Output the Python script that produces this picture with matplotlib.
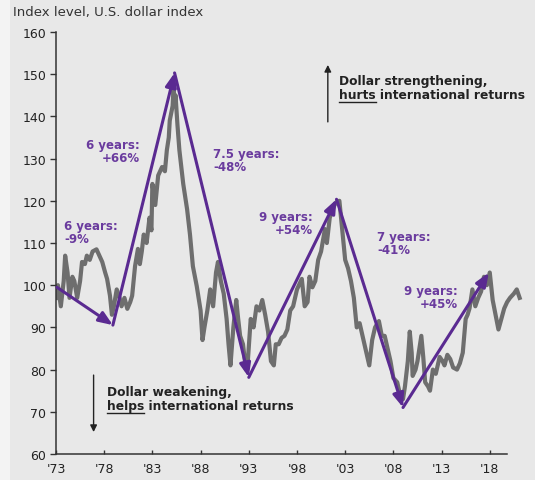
import numpy as np
import matplotlib.pyplot as plt
from matplotlib.lines import Line2D
from matplotlib.patches import Rectangle

# ── U.S. dollar index (year, index level) ─────────────────────────────
years = [1973.0, 1973.2, 1973.5, 1973.8, 1973.95, 1974.2, 1974.4, 1974.7, 1974.9,
         1975.2, 1975.5, 1975.7, 1976.0, 1976.2, 1976.5, 1976.8, 1977.2, 1977.5,
         1977.8, 1978.1, 1978.3, 1978.6, 1978.8, 1979.0, 1979.3, 1979.6, 1979.8,
         1980.1, 1980.4, 1980.7, 1980.9, 1981.2, 1981.5, 1981.7, 1981.9, 1982.1,
         1982.4, 1982.7, 1982.9, 1983.0, 1983.3, 1983.6, 1984.0, 1984.3, 1984.5,
         1984.7, 1984.8, 1985.1, 1985.2, 1985.3, 1985.4, 1985.6, 1985.8, 1986.0,
         1986.2, 1986.6, 1986.9, 1987.2, 1987.6, 1988.0, 1988.2, 1988.4, 1988.7,
         1989.0, 1989.3, 1989.6, 1989.8, 1990.1, 1990.4, 1990.7, 1990.9, 1991.1,
         1991.4, 1991.7, 1991.9, 1992.1, 1992.4, 1992.7, 1992.9, 1993.2, 1993.5,
         1993.8, 1994.1, 1994.4, 1994.7, 1995.0, 1995.3, 1995.6, 1995.8, 1996.1,
         1996.4, 1996.7, 1997.0, 1997.3, 1997.6, 1998.0, 1998.5, 1998.8, 1999.1,
         1999.3, 1999.6, 1999.9, 2000.2, 2000.5, 2000.9, 2001.1, 2001.4, 2001.7,
         2001.9, 2002.1, 2002.4, 2002.7, 2003.0, 2003.3, 2003.6, 2003.9, 2004.2,
         2004.5, 2004.8, 2005.1, 2005.5, 2005.8, 2006.1, 2006.5, 2006.8, 2007.1,
         2007.4, 2007.7, 2008.0, 2008.4, 2008.7, 2009.0, 2009.2, 2009.5, 2009.7,
         2009.9, 2010.0, 2010.3, 2010.5, 2010.9, 2011.1, 2011.3, 2011.6, 2011.8,
         2012.1, 2012.4, 2012.8, 2013.1, 2013.3, 2013.6, 2013.9, 2014.2, 2014.6,
         2014.9, 2015.2, 2015.5, 2015.7, 2015.9, 2016.2, 2016.5, 2016.8, 2017.1,
         2017.4, 2017.7, 2018.0, 2018.3, 2018.6, 2018.9, 2019.2, 2019.5, 2019.8,
         2020.1, 2020.5, 2020.8, 2021.1]
dxy = [97, 100, 95, 101, 107, 103, 97, 102, 101,
       97, 101, 105.5, 105, 107, 106, 108, 108.5, 107,
       105.5, 103, 101.5, 97.5, 93, 95, 99, 97, 95,
       97, 94.4, 96, 97.5, 104.5, 108.6, 105, 108, 112,
       110, 116, 113, 124, 119, 126, 128, 127, 132,
       135, 139, 142.5, 147, 143, 145, 138, 132, 128,
       124, 118, 112, 104.5, 99.8, 94, 87, 90, 94,
       99, 95, 103, 105.5, 101, 98, 92, 86, 81,
       90, 96.5, 92, 88, 86, 80, 82, 92, 90,
       95, 94, 96.5, 93, 89, 82, 81, 86, 86,
       87.5, 88, 89.5, 94, 95, 99, 101.5, 95, 96,
       102, 99.5, 101, 106, 108, 113.3, 110, 116, 118,
       119, 119.7, 120, 113, 106, 104, 101, 97, 90,
       91, 88, 85, 81, 87, 90, 91.5, 88, 88,
       85, 82, 78, 77, 74, 73, 76, 82, 89,
       84, 78.5, 80, 82, 88, 83, 77, 76, 75,
       80, 79, 83, 82, 81, 83.5, 82.5, 80.5, 80,
       81.5, 84, 92, 93, 94.5, 99, 95, 97, 98.5,
       102, 100, 103, 96.5, 93, 89.5, 92, 94.5, 96,
       97, 98, 99, 97]

# ── Dollar cycles: turning points and the move in each leg ────────────
cycle_years = [1973.1, 1978.9, 1985.3, 1993.0, 2002.1, 2009.0, 2017.9]
cycle_start = 99.5
cycle_pct = [-9, 66, -48, 54, -41, 45]
cycle_len = ['6', '6', '7.5', '9', '7', '9']
cycle_levels = [cycle_start]
for p in cycle_pct:
    cycle_levels.append(cycle_levels[-1] * (1 + p / 100))

# label anchor (year, level) and horizontal alignment for each leg
label_pos = [(1973.83, 112.6, 'left'), (1981.7, 131.9, 'right'),
             (1989.3, 129.7, 'left'), (1999.66, 114.7, 'right'),
             (2006.3, 110.0, 'left'), (2014.7, 97.3, 'right')]

tick_years = list(range(1973, 2019, 5))
tick_labels = ["'%02d" % (y % 100) for y in tick_years]

purple = '#5a2a91'
label_purple = '#6a3b9e'
bg = '#e8e8e8'

# ── Figure ────────────────────────────────────────────────────────────
fig = plt.figure(figsize=(5.35, 4.81), dpi=100, facecolor=bg)
fig.add_artist(Rectangle((0, 0), 0.018, 1, transform=fig.transFigure,
                         color='#f3f3f3', lw=0, zorder=0))
ax = fig.add_axes([56 / 535, 26 / 481, (523.5 - 56) / 535, 422 / 481])
ax.set_facecolor(bg)

ax.plot(years, dxy, color='#6e6e6e', lw=3.0, solid_joinstyle='round', zorder=2)

for i, pct in enumerate(cycle_pct):
    ax.annotate('', xy=(cycle_years[i + 1], cycle_levels[i + 1]),
                xytext=(cycle_years[i], cycle_levels[i]),
                arrowprops=dict(arrowstyle='-|>,head_length=0.55,head_width=0.22',
                                color=purple, lw=2.2, mutation_scale=15,
                                shrinkA=0, shrinkB=0),
                zorder=3)
    x, y, ha = label_pos[i]
    ax.text(x, y, '%s years:\n%+d%%' % (cycle_len[i], pct), ha=ha, va='center',
            fontsize=8.5, fontweight='bold', color=label_purple,
            linespacing=1.0, multialignment=ha, zorder=4)

# ── Strengthening / weakening notes ──────────────────────────────────
arrow_kw = dict(arrowstyle='-|>', color='#222222', lw=1.0, mutation_scale=10,
                shrinkA=0, shrinkB=0)
ax.annotate('', xy=(2001.2, 152.2), xytext=(2001.2, 138.7), arrowprops=arrow_kw)
ax.annotate('', xy=(1976.9, 65.2), xytext=(1976.9, 78.7), arrowprops=arrow_kw)

note_kw = dict(ha='left', va='center', fontsize=8.8, fontweight='bold',
               color='#222222')
ax.text(2002.35, 148.4, 'Dollar strengthening,', **note_kw)
hurts = ax.text(2002.35, 145.1, 'hurts international returns', **note_kw)
ax.text(1978.3, 74.9, 'Dollar weakening,', **note_kw)
helps = ax.text(1978.3, 71.6, 'helps international returns', **note_kw)

# ── Axes styling ──────────────────────────────────────────────────────
ax.set_xlim(1973, 2021.5)
ax.set_ylim(60, 160)
ax.set_yticks(np.arange(60, 161, 10))
ax.set_xticks(tick_years)
ax.set_xticklabels(tick_labels)
for side in ['top', 'right']:
    ax.spines[side].set_visible(False)
ax.spines['bottom'].set_bounds(1973, 2019.8)
for side in ['left', 'bottom']:
    ax.spines[side].set_color('#333333')
    ax.spines[side].set_linewidth(1.1)
ax.tick_params(axis='y', direction='out', length=4, width=1, pad=3,
               labelsize=9, colors='#333333', labelcolor='#222222')
ax.tick_params(axis='x', direction='in', length=3, width=1, pad=6,
               labelsize=9, colors='#333333', labelcolor='#222222')

fig.text(13 / 535, 0.973, 'Index level, U.S. dollar index', ha='left',
         va='center', fontsize=9.5, color='#333333')

# underline the first word of each note line
fig.canvas.draw()
renderer = fig.canvas.get_renderer()
inv = fig.transFigure.inverted()
for t, word in [(hurts, 'hurts'), (helps, 'helps')]:
    full = t.get_window_extent(renderer)
    probe = ax.text(0, 0, word, fontsize=8.8, fontweight='bold')
    w = probe.get_window_extent(renderer).width
    probe.remove()
    y = full.y0 - 1
    (x0, y0), (x1, _) = inv.transform([(full.x0, y), (full.x0 + w, y)])
    fig.add_artist(Line2D([x0, x1], [y0, y0], transform=fig.transFigure,
                          color='#222222', lw=1.0))

fig.savefig('out.png', dpi=100, facecolor=bg)
